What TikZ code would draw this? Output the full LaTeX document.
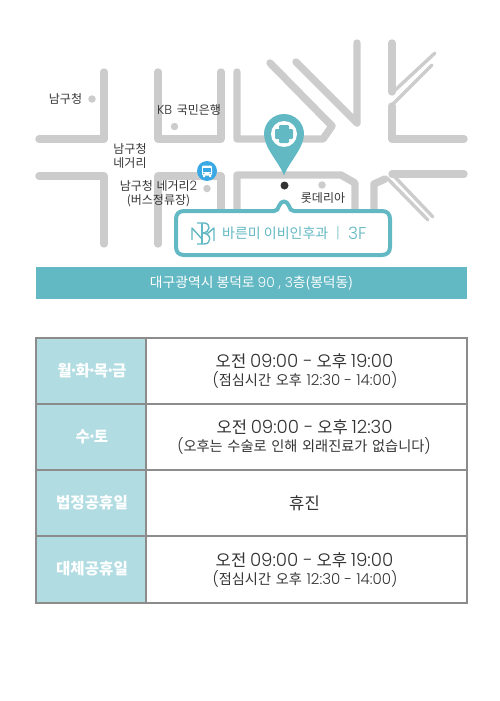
\documentclass[tikz,border=0pt]{standalone}
\usepackage{fontspec}
\setmainfont{Noto Sans CJK KR}
\newfontfamily\kr{Noto Sans CJK KR}
\newfontfamily\pop{Poppins Light}
\definecolor{road}{HTML}{CCCCCC}
\definecolor{teal}{HTML}{62B8C3}
\definecolor{paleteal}{HTML}{B0DCE2}
\definecolor{rule}{HTML}{8C8C8C}
\definecolor{busblue}{HTML}{3AA8E4}
\definecolor{ink}{HTML}{333333}
\tikzset{
  roadline/.style={draw=road,line width=7.4pt,line cap=round,line join=round},
  thinroad/.style={draw=road,line width=3.4pt,line cap=round},
  place/.style={circle,fill=road,inner sep=0pt,minimum size=7.5pt},
  maplabel/.style={font=\fontsize{12}{13.5}\selectfont,text=ink,inner sep=0pt,align=center},
  dayhead/.style={font=\fontsize{15.6}{17}\selectfont\bfseries,text=white,inner sep=0pt},
  hourmain/.style={font=\fontsize{16.6}{19}\selectfont,text=ink,inner sep=0pt,anchor=base},
  hoursub/.style={font=\fontsize{14.2}{16}\selectfont,text=ink,inner sep=0pt,anchor=base},
  logoline/.style={draw=teal,line width=1.4pt,line join=round}
}
\newcommand{\middot}{\kern-2.8pt·\kern-2.8pt}
\newcommand{\popm}[1]{{\fontsize{18.2}{19}\pop #1}}
\newcommand{\pops}[1]{{\fontsize{15}{16}\pop #1}}
\begin{document}
\begin{tikzpicture}[x=1pt,y=-1pt]
\useasboundingbox (0,0) rectangle (500,701);
% roads above the crossing
\draw[roadline] (104,72) -- (104,139) -- (39,139);
\draw[roadline] (158,72) -- (158,139) -- (221,139) -- (221,72);
\draw[roadline] (237,72) -- (237,139) -- (323,139) -- (332,126) -- (270,63);
\draw[roadline] (296,62) -- (357,123) -- (357,43);
\draw[roadline] (392,43) -- (392,92);
\draw[thinroad] (392,93) -- (435,53);
\draw[thinroad] (391,106) -- (432,65);
\draw[roadline] (392,106) -- (392,139) -- (464,139);
% roads below the crossing
\draw[roadline] (39,176) -- (104,176) -- (104,244);
\draw[roadline] (158,244) -- (158,176) -- (221,176) -- (221,225);
\draw[roadline] (237,225) -- (237,175) -- (341,175) -- (355,183) -- (355,225);
\draw[roadline] (374,225) -- (374,184) -- (385,179);
\draw[thinroad] (387,178) -- (428,220);
\draw[roadline] (464,174) -- (392,174);
\draw[thinroad] (392,174) -- (433,217);
% callout box
\path[draw=teal,fill=white,line width=4pt,line join=round]
  (184,211) -- (274,211) .. controls (277,211) and (278,209) .. (279,206)
  .. controls (281,200) and (287,200) .. (289,206)
  .. controls (290,209) and (291,211) .. (294,211)
  -- (382,211) .. controls (387,211) and (390,214) .. (390,219)
  -- (390,247) .. controls (390,252) and (387,255) .. (382,255)
  -- (184,255) .. controls (179,255) and (176,252) .. (176,247)
  -- (176,219) .. controls (176,214) and (179,211) .. (184,211) -- cycle;
% logo
\draw[logoline] (192,240) -- (192,228) -- (202,239);
\draw[logoline] (197,223) -- (204,223) .. controls (211,223) and (211,233) .. (202,233)
  .. controls (212,233) and (212,244) .. (204,244) -- (197,244);
\draw[logoline] (202,223) -- (202,244);
\draw[logoline] (207,234) -- (214,228) -- (214,241);
% map places
\node[place] (p1) at (92,99) {};
\node[place] (p2) at (174.5,126.5) {};
\node[place] (p3) at (207,188.5) {};
\node[place] (p4) at (322,185) {};
\node[maplabel] (l1) at (65.5,99) {남구청};
\node[maplabel] (l2) at (189,110) {{\fontsize{13}{14}\pop KB}\hspace{2pt} 국민은행};
\node[maplabel] (l3) at (130,156) {남구청\\네거리};
\node[maplabel] (l4) at (158.5,193.5) {남구청\hspace{1pt} 네거리{\fontsize{13}{14}\pop 2}\\(버스정류장)};
\node[maplabel] (l5) at (323,198) {롯데리아};
% bus icon
\node[circle,fill=busblue,inner sep=0pt,minimum size=20pt] (bus) at (207,171) {};
\fill[white,rounded corners=1.2pt] (202,165.5) rectangle (212,175.5);
\fill[busblue] (203.3,168) rectangle (210.7,171.5);
\fill[white] (203,175) rectangle (205,177) (209,175) rectangle (211,177);
\fill[busblue] (203.8,173.3) circle (0.8pt) (210.2,173.3) circle (0.8pt);
% pin
\fill[teal] (284,175.5) .. controls (279,162) and (264,148) .. (264,134)
  arc[start angle=180,end angle=360,radius=20]
  .. controls (304,148) and (289,162) .. (284,175.5) -- cycle;
\node[circle,fill=white,inner sep=0pt,minimum size=26pt] (pinhole) at (284,134) {};
\fill[teal,rounded corners=1.2pt] (279,125) rectangle (289,143);
\fill[teal,rounded corners=1.2pt] (275,129) rectangle (293,139);
\node[circle,fill=ink,inner sep=0pt,minimum size=8pt] (spot) at (284.5,185.5) {};
% callout text
\node[anchor=west,text=teal,inner sep=0pt,font=\fontsize{14}{16}\selectfont] (name) at (222,233) {바른미 이비인후과};
\node[text=teal,inner sep=0pt,font=\fontsize{12}{14}\selectfont] (sep) at (338,233) {|};
\node[anchor=west,text=teal,inner sep=0pt,font=\fontsize{17}{18}\pop] (floor) at (348,233) {3F};
% address bar
\node[fill=teal,minimum width=431pt,minimum height=32pt,inner sep=0pt,text=white,font=\fontsize{13.8}{15}\selectfont] (addr) at (251.5,283) {대구광역시 봉덕로 {\pop 90 , 3}층(봉덕동)};
% table
\fill[paleteal] (36,338) rectangle (146,603);
\draw[rule,line width=2pt] (36,338) rectangle (467,603);
\draw[rule,line width=2pt] (146,338) -- (146,603);
\draw[rule,line width=2pt] (36,404) -- (467,404) (36,470) -- (467,470) (36,536) -- (467,536);
\node[dayhead] (d1) at (92,371) {월\middot 화\middot 목\middot 금};
\node[dayhead] (d2) at (92,437) {수\middot 토};
\node[dayhead] (d3) at (92,503) {법정공휴일};
\node[dayhead] (d4) at (92,569) {대체공휴일};
\node[hourmain] (h1) at (304.5,367) {오전 \popm{09:00 -} 오후 \popm{19:00}};
\node[hoursub] (s1) at (305,385) {\pops{(}점심시간\hspace{1.5pt} 오후\hspace{1.5pt} \pops{12:30 - 14:00)}};
\node[hourmain] (h2) at (304.5,433) {오전 \popm{09:00 -} 오후 \popm{12:30}};
\node[hoursub] (s2) at (304,451) {\pops{(}오후는\hspace{1.5pt} 수술로\hspace{1.5pt} 인해\hspace{1.5pt} 외래진료가\hspace{1.5pt} 없습니다\pops{)}};
\node[hourmain] (h3) at (304.5,509) {휴진};
\node[hourmain] (h4) at (304.5,566) {오전 \popm{09:00 -} 오후 \popm{19:00}};
\node[hoursub] (s4) at (305,584) {\pops{(}점심시간\hspace{1.5pt} 오후\hspace{1.5pt} \pops{12:30 - 14:00)}};
\end{tikzpicture}
\end{document}
